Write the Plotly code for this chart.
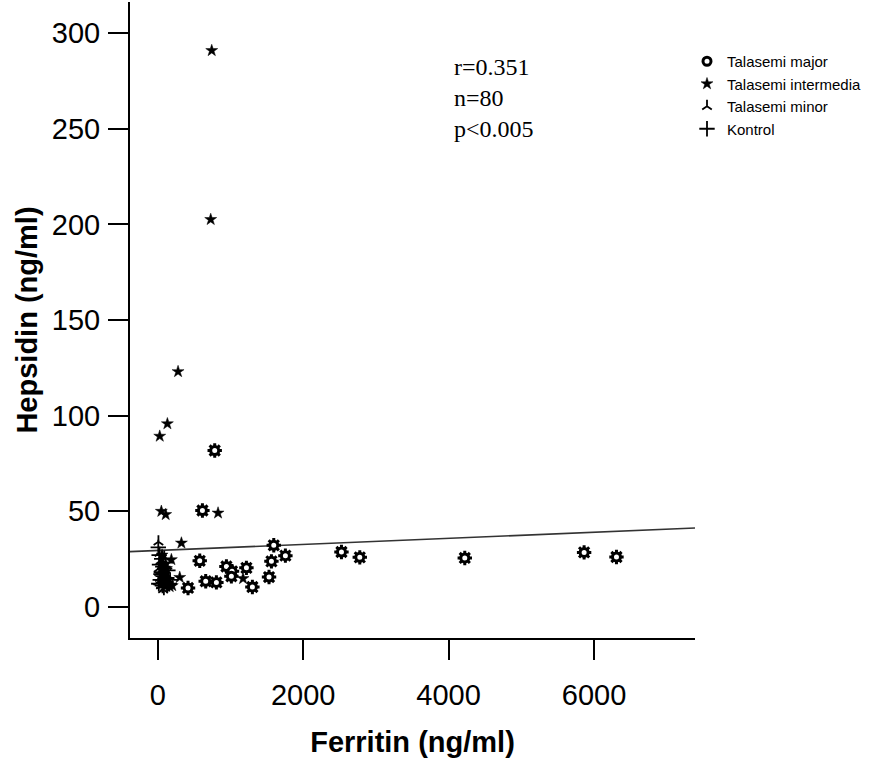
import plotly.graph_objects as go

# ---- data ----
major_ferritin = [615, 784, 578, 945, 1022, 1013, 1220, 1302, 660, 807,
                  417, 1596, 1756, 1564, 1531, 2527, 2779, 4223, 5864, 6309]
major_hepsidin = [50.3, 81.7, 24.0, 21.0, 18.5, 15.9, 20.3, 10.3, 13.3, 12.7,
                  9.8, 32.1, 26.7, 23.7, 15.5, 28.6, 25.8, 25.5, 28.4, 26.0]

inter_ferritin = [743, 729, 280, 133, 28, 50, 110, 830, 326, 188,
                  303, 165, 1174, 120, 90, 140, 60, 200, 100, 75]
inter_hepsidin = [291, 202.6, 123, 95.7, 89.2, 49.9, 48.2, 49.0, 33.3, 24.6,
                  15.3, 10.5, 14.7, 20, 17, 12, 27, 11, 13, 22]

minor_ferritin = [10, 25, 40, 60, 30, 80, 110, 45, 70, 15,
                  90, 130, 150, 100, 20, 55, 75, 120, 8, 140]
minor_hepsidin = [34, 28, 24, 19, 15, 13, 17, 11, 22, 20,
                  26, 12, 16, 10, 18, 14, 9, 21, 13, 11]

kontrol_ferritin = [15, 35, 50, 65, 75, 95, 110, 25, 55, 125,
                    140, 8, 85, 160, 105, 45, 70, 20, 130, 170]
kontrol_hepsidin = [12, 14, 18, 11, 16, 20, 13, 22, 25, 15,
                    19, 31, 10, 12, 23, 17, 21, 27, 11, 14]

fit_intercept = 29.4
fit_slope = 0.00159

x_range = [-381, 7389]
y_range = [-16.4, 316.4]
x_ticks = [0, 2000, 4000, 6000]
y_ticks = [0, 50, 100, 150, 200, 250, 300]

stats_text = "r=0.351<br>n=80<br>p<0.005"

SANS = "Liberation Sans, Arial, sans-serif"
SERIF = "Liberation Serif, Times New Roman, serif"

fig = go.Figure()

# regression line
fig.add_trace(go.Scatter(
    x=x_range, y=[fit_intercept + fit_slope * v for v in x_range],
    mode="lines", line=dict(color="#333333", width=1.6),
    showlegend=False, hoverinfo="skip"))

# Talasemi major: gear = asterisk teeth + ring
fig.add_trace(go.Scatter(
    x=major_ferritin, y=major_hepsidin, mode="markers",
    marker=dict(symbol="asterisk-open", size=12, color="black",
                line=dict(color="black", width=3)),
    showlegend=False, legendgroup="major", hoverinfo="skip"))
fig.add_trace(go.Scatter(
    x=major_ferritin, y=major_hepsidin, mode="markers", name="Talasemi major",
    legendgroup="major",
    marker=dict(symbol="circle", size=8, color="white", line=dict(color="black", width=3))))

fig.add_trace(go.Scatter(
    x=inter_ferritin, y=inter_hepsidin, mode="markers", name="Talasemi intermedia",
    marker=dict(symbol="star", size=9, color="black", line=dict(color="black", width=0.5))))

fig.add_trace(go.Scatter(
    x=minor_ferritin, y=minor_hepsidin, mode="markers", name="Talasemi minor",
    marker=dict(symbol="y-up-open", size=8, color="black",
                line=dict(color="black", width=1.8))))

fig.add_trace(go.Scatter(
    x=kontrol_ferritin, y=kontrol_hepsidin, mode="markers", name="Kontrol",
    marker=dict(symbol="cross-thin-open", size=11, color="black",
                line=dict(color="black", width=1.8))))

fig.add_annotation(
    x=(452 - 130) / 565, y=(638 - 52) / 636, xref="paper", yref="paper",
    xanchor="left", yanchor="top", align="left", showarrow=False,
    text=stats_text, font=dict(family=SERIF, size=24, color="black"))

axis_common = dict(
    showline=True, linewidth=2, linecolor="black", mirror=False,
    ticks="outside", ticklen=20, tickwidth=1.5, tickcolor="black",
    showgrid=False, zeroline=False,
    tickfont=dict(family=SANS, size=29, color="black"))

fig.update_layout(
    width=870, height=763,
    margin=dict(l=130, r=175, t=2, b=125),
    paper_bgcolor="white", plot_bgcolor="white",
    xaxis=dict(range=x_range, tickvals=x_ticks, ticklabelstandoff=10,
               title=dict(text="<b>Ferritin (ng/ml)</b>", standoff=22,
                          font=dict(family=SANS, size=29, color="black")),
               **axis_common),
    yaxis=dict(range=y_range, tickvals=y_ticks, ticklabelstandoff=2,
               title=dict(text="<b>Hepsidin (ng/ml)</b>", standoff=6,
                          font=dict(family=SANS, size=29, color="black")),
               **axis_common),
    legend=dict(x=(687 - 130) / 565, y=(638 - 45) / 636, xanchor="left", yanchor="top",
                font=dict(family=SANS, size=15, color="black"),
                bgcolor="rgba(0,0,0,0)", borderwidth=0, tracegroupgap=0,
                itemsizing="trace"),
    showlegend=True,
)

fig.write_html("out.html")
